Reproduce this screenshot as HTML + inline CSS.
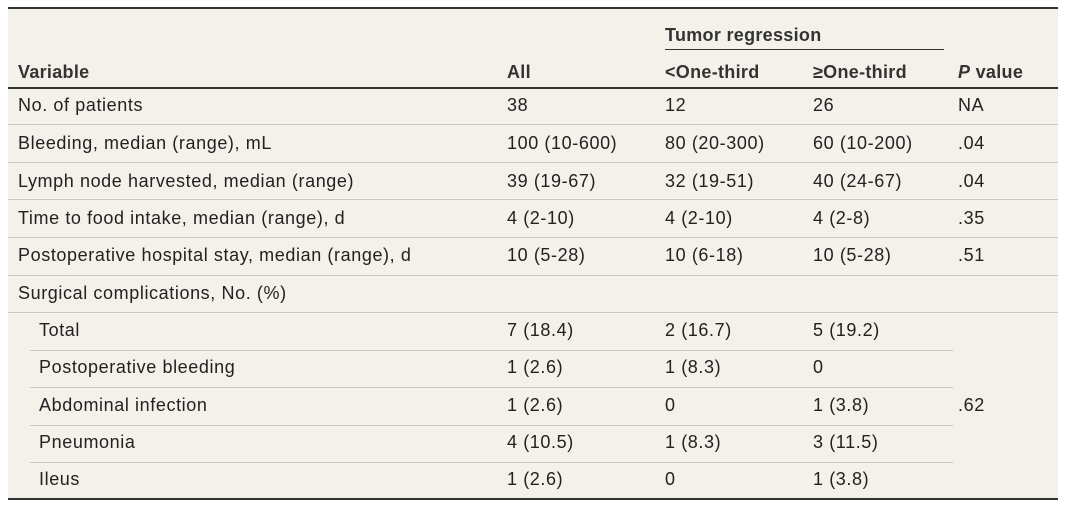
<!DOCTYPE html>
<html><head><meta charset="utf-8"><style>
body{margin:0;width:1065px;height:506px;background:#fff;position:relative;overflow:hidden;font-family:"Liberation Sans",sans-serif;font-size:18px;letter-spacing:0.6px;color:#222}
#t{position:absolute;left:8px;top:8px;width:1050px;height:491px;background:#f3f1ea}
.l{position:absolute;height:1px;background:#c9c7c0}
.d{position:absolute;height:2px;background:#333}
.x{position:absolute;white-space:nowrap;line-height:20px}
.b{font-weight:bold;color:#333;letter-spacing:0.3px}
</style></head><body>
<div id="t"></div>
<div class="d" style="left:8px;top:7px;width:1050px"></div>
<div class="d" style="left:8px;top:87px;width:1050px;height:1.5px"></div>
<div class="l" style="left:665px;top:49px;width:279px;background:#333"></div>
<div class="l" style="left:8px;top:124px;width:1050px"></div>
<div class="l" style="left:8px;top:162px;width:1050px"></div>
<div class="l" style="left:8px;top:199px;width:1050px"></div>
<div class="l" style="left:8px;top:237px;width:1050px"></div>
<div class="l" style="left:8px;top:275px;width:1050px"></div>
<div class="l" style="left:8px;top:312px;width:1050px"></div>
<div class="l" style="left:30px;top:350px;width:923px"></div>
<div class="l" style="left:30px;top:387px;width:923px"></div>
<div class="l" style="left:30px;top:425px;width:923px"></div>
<div class="l" style="left:30px;top:462px;width:923px"></div>
<div class="d" style="left:8px;top:498px;width:1050px"></div>

<div class="x b" style="left:665px;top:25px">Tumor regression</div>
<div class="x b" style="left:18px;top:62px">Variable</div>
<div class="x b" style="left:507px;top:62px">All</div>
<div class="x b" style="left:665px;top:62px">&lt;One-third</div>
<div class="x b" style="left:813px;top:62px">≥One-third</div>
<div class="x b" style="left:958px;top:62px"><i>P</i> value</div>

<div class="x" style="left:18px;top:95px">No. of patients</div>
<div class="x" style="left:507px;top:95px">38</div><div class="x" style="left:665px;top:95px">12</div><div class="x" style="left:813px;top:95px">26</div><div class="x" style="left:958px;top:95px">NA</div>

<div class="x" style="left:18px;top:133px">Bleeding, median (range), mL</div>
<div class="x" style="left:507px;top:133px">100 (10-600)</div><div class="x" style="left:665px;top:133px">80 (20-300)</div><div class="x" style="left:813px;top:133px">60 (10-200)</div><div class="x" style="left:958px;top:133px">.04</div>

<div class="x" style="left:18px;top:171px">Lymph node harvested, median (range)</div>
<div class="x" style="left:507px;top:171px">39 (19-67)</div><div class="x" style="left:665px;top:171px">32 (19-51)</div><div class="x" style="left:813px;top:171px">40 (24-67)</div><div class="x" style="left:958px;top:171px">.04</div>

<div class="x" style="left:18px;top:208px">Time to food intake, median (range), d</div>
<div class="x" style="left:507px;top:208px">4 (2-10)</div><div class="x" style="left:665px;top:208px">4 (2-10)</div><div class="x" style="left:813px;top:208px">4 (2-8)</div><div class="x" style="left:958px;top:208px">.35</div>

<div class="x" style="left:18px;top:245px">Postoperative hospital stay, median (range), d</div>
<div class="x" style="left:507px;top:245px">10 (5-28)</div><div class="x" style="left:665px;top:245px">10 (6-18)</div><div class="x" style="left:813px;top:245px">10 (5-28)</div><div class="x" style="left:958px;top:245px">.51</div>

<div class="x" style="left:18px;top:283px">Surgical complications, No. (%)</div>

<div class="x" style="left:39px;top:320px">Total</div>
<div class="x" style="left:507px;top:320px">7 (18.4)</div><div class="x" style="left:665px;top:320px">2 (16.7)</div><div class="x" style="left:813px;top:320px">5 (19.2)</div>

<div class="x" style="left:39px;top:357px">Postoperative bleeding</div>
<div class="x" style="left:507px;top:357px">1 (2.6)</div><div class="x" style="left:665px;top:357px">1 (8.3)</div><div class="x" style="left:813px;top:357px">0</div>

<div class="x" style="left:39px;top:395px">Abdominal infection</div>
<div class="x" style="left:507px;top:395px">1 (2.6)</div><div class="x" style="left:665px;top:395px">0</div><div class="x" style="left:813px;top:395px">1 (3.8)</div><div class="x" style="left:958px;top:395px">.62</div>

<div class="x" style="left:39px;top:432px">Pneumonia</div>
<div class="x" style="left:507px;top:432px">4 (10.5)</div><div class="x" style="left:665px;top:432px">1 (8.3)</div><div class="x" style="left:813px;top:432px">3 (11.5)</div>

<div class="x" style="left:39px;top:469px">Ileus</div>
<div class="x" style="left:507px;top:469px">1 (2.6)</div><div class="x" style="left:665px;top:469px">0</div><div class="x" style="left:813px;top:469px">1 (3.8)</div>
</body></html>
